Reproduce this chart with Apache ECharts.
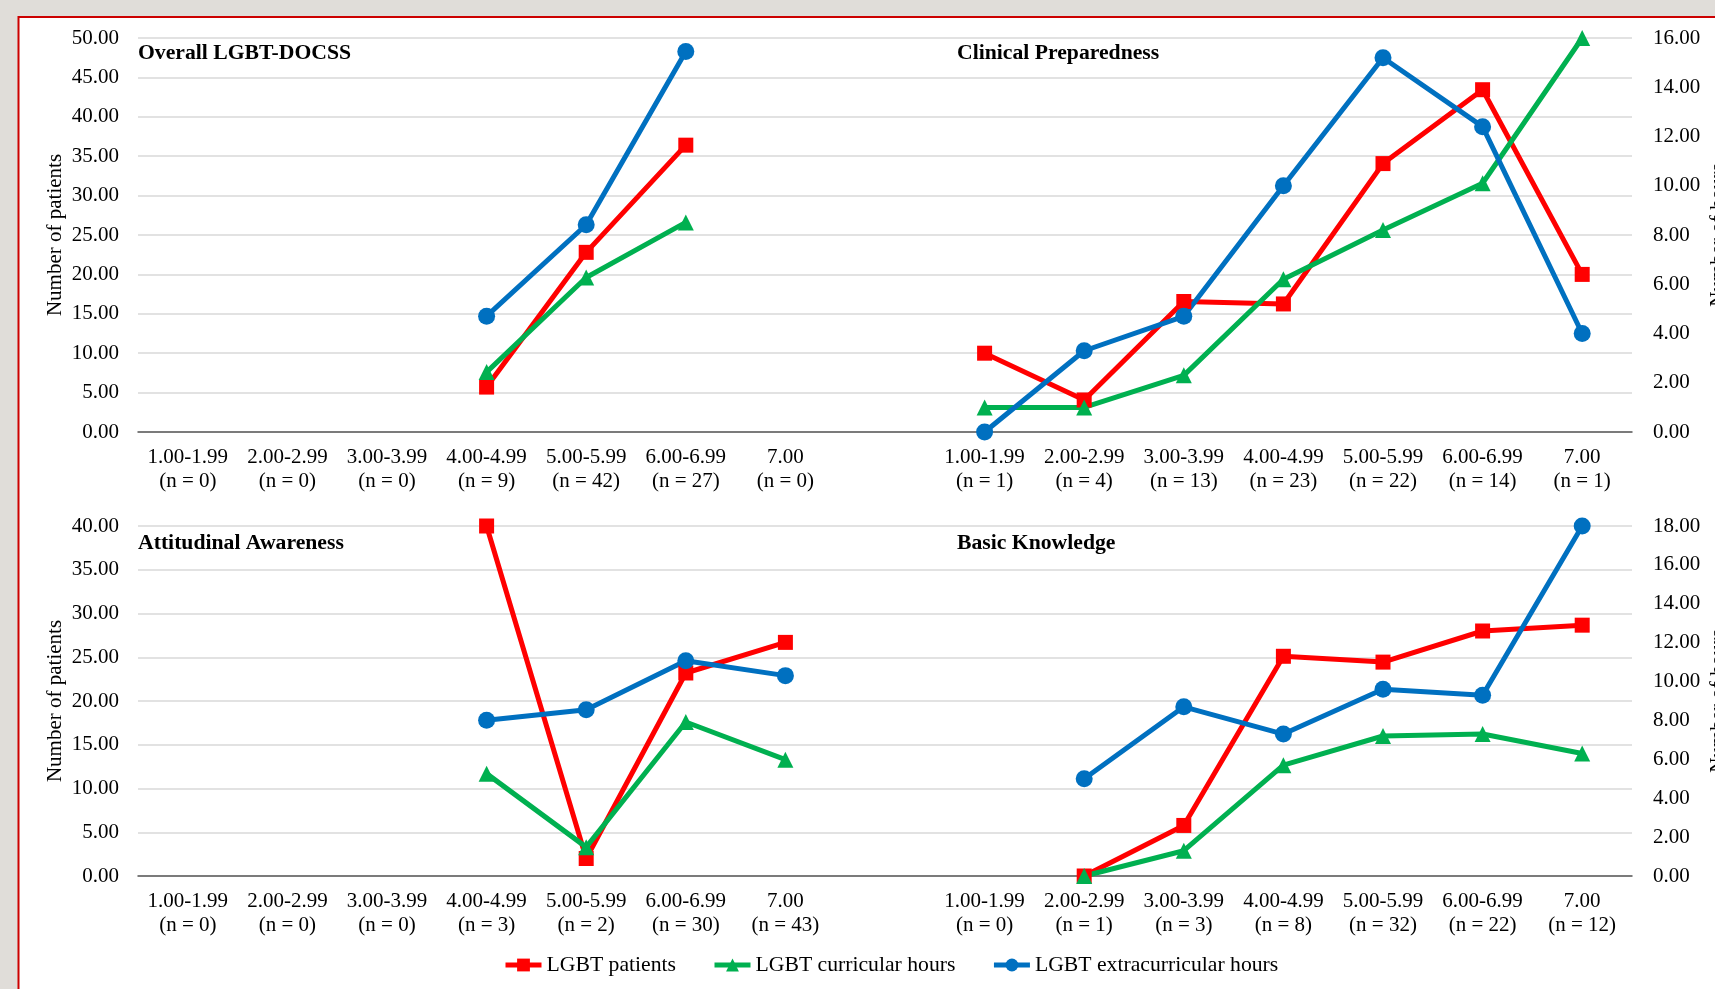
<!DOCTYPE html>
<html>
<head>
<meta charset="utf-8">
<script src="https://cdn.jsdelivr.net/npm/echarts@6/dist/echarts.min.js"></script>
<style>
  html, body { margin: 0; padding: 0; background: #e0ddd9; }
  #chart { width: 1715px; height: 989px; }
</style>
</head>
<body>
<div id="chart"></div>
<script>
// score bins shared by all four panels
const scoreBins = ['1.00-1.99', '2.00-2.99', '3.00-3.99', '4.00-4.99', '5.00-5.99', '6.00-6.99', '7.00'];
const nOverall = [0, 0, 0, 9, 42, 27, 0];
const nClinical = [1, 4, 13, 23, 22, 14, 1];
const nAttitudinal = [0, 0, 0, 3, 2, 30, 43];
const nKnowledge = [0, 1, 3, 8, 32, 22, 12];

// Overall LGBT-DOCSS (left axis, number of patients)
const overallPatients = [null, null, null, 5.7, 22.8, 36.4, null];
const overallCurricular = [null, null, null, 7.6, 19.6, 26.6, null];
const overallExtra = [null, null, null, 14.7, 26.3, 48.3, null];

// Clinical Preparedness (right axis)
const clinicalPatients = [3.2, 1.3, 5.3, 5.2, 10.9, 13.9, 6.4];
const clinicalCurricular = [1.0, 1.0, 2.3, 6.2, 8.2, 10.1, 16.0];
const clinicalExtra = [0, 3.3, 4.7, 10.0, 15.2, 12.4, 4.0];

// Attitudinal Awareness (left axis)
const attitudinalPatients = [null, null, null, 40.0, 2.0, 23.2, 26.7];
const attitudinalCurricular = [null, null, null, 11.7, 3.3, 17.6, 13.3];
const attitudinalExtra = [null, null, null, 17.8, 19.0, 24.6, 22.9];

// Basic Knowledge (right axis)
const knowledgePatients = [null, 0, 2.6, 11.3, 11.0, 12.6, 12.9];
const knowledgeCurricular = [null, 0, 1.3, 5.7, 7.2, 7.3, 6.3];
const knowledgeExtra = [null, 5.0, 8.7, 7.3, 9.6, 9.3, 18.0];

const FONT = 'Liberation Serif';
const chart = echarts.init(document.getElementById('chart'));

// each row is one category axis: 7 bins, an empty slot, 7 bins
const rowLabels = (nLeft, nRight) =>
  scoreBins.map((b, i) => b + '\n(n = ' + nLeft[i] + ')')
    .concat([''])
    .concat(scoreBins.map((b, i) => b + '\n(n = ' + nRight[i] + ')'));
const gap = Array(8).fill(null);
const leftHalf = arr => arr.concat(gap);
const rightHalf = arr => gap.concat(arr);

const kinds = {
  'LGBT patients': { color: '#ff0000', symbol: 'rect', size: 15 },
  'LGBT curricular hours': { color: '#00b050', symbol: 'triangle', size: 16 },
  'LGBT extracurricular hours': { color: '#0070c0', symbol: 'circle', size: 17 },
};

const line = (name, data, row, yIdx) => ({
  type: 'line',
  name,
  data,
  xAxisIndex: row,
  yAxisIndex: yIdx,
  symbol: kinds[name].symbol,
  symbolSize: kinds[name].size,
  clip: false,
  lineStyle: { width: 5, color: kinds[name].color },
  itemStyle: { color: kinds[name].color },
});

const xAxis = (row, labels) => ({
  type: 'category',
  gridIndex: row,
  data: labels,
  axisTick: { show: false },
  axisLine: { lineStyle: { color: '#595959', width: 1.5 } },
  axisLabel: { interval: 0, fontFamily: FONT, fontSize: 21, lineHeight: 24, margin: 13, color: '#000' },
});

const leftAxis = (row, max) => ({
  type: 'value',
  gridIndex: row,
  position: 'left',
  min: 0,
  max,
  interval: 5,
  name: 'Number of patients',
  nameLocation: 'middle',
  nameRotate: 90,
  nameGap: 72,
  nameMoveOverlap: false,
  nameTextStyle: { fontFamily: FONT, fontSize: 21, color: '#000' },
  axisLine: { show: false },
  axisTick: { show: false },
  axisLabel: { formatter: v => v.toFixed(2), fontFamily: FONT, fontSize: 21, color: '#000', margin: 19 },
  splitLine: { lineStyle: { color: '#d9d9d9', width: 1.5 } },
});

const rightAxis = (row, max) => ({
  type: 'value',
  gridIndex: row,
  position: 'right',
  min: 0,
  max,
  interval: 2,
  name: 'Number of hours',
  nameLocation: 'middle',
  nameRotate: 90,
  nameGap: 76,
  nameMoveOverlap: false,
  nameTextStyle: { fontFamily: FONT, fontSize: 21, color: '#000' },
  axisLine: { show: false },
  axisTick: { show: false },
  axisLabel: { formatter: v => v.toFixed(2), fontFamily: FONT, fontSize: 21, color: '#000', margin: 21 },
  splitLine: { show: false },
});

const titleStyle = { fontFamily: FONT, fontSize: 21.7, fontWeight: 'bold', color: '#000', lineHeight: 23 };

chart.setOption({
  animation: false,
  backgroundColor: '#e0ddd9',
  graphic: [{
    type: 'rect',
    z: -10,
    silent: true,
    shape: { x: 18.5, y: 17, width: 1800, height: 1100 },
    style: { fill: '#ffffff', stroke: '#cc0000', lineWidth: 2 },
  }],
  title: [
    { text: 'Overall LGBT-DOCSS', left: 138, top: 42, padding: 0, textStyle: titleStyle },
    { text: 'Clinical Preparedness', left: 957, top: 42, padding: 0, textStyle: titleStyle },
    { text: 'Attitudinal Awareness', left: 138, top: 532, padding: 0, textStyle: titleStyle },
    { text: 'Basic Knowledge', left: 957, top: 532, padding: 0, textStyle: titleStyle },
  ],
  legend: {
    left: 503,
    top: 953,
    padding: 0,
    itemWidth: 36,
    itemHeight: 16,
    itemGap: 36,
    lineStyle: { width: 5 },
    textStyle: { fontFamily: FONT, fontSize: 21.7, lineHeight: 24, color: '#000' },
    data: ['LGBT patients', 'LGBT curricular hours', 'LGBT extracurricular hours'],
  },
  grid: [
    { left: 138, right: 83, top: 38, height: 394, containLabel: false, outerBoundsMode: 'none' },
    { left: 138, right: 83, top: 526, height: 350, containLabel: false, outerBoundsMode: 'none' },
  ],
  xAxis: [
    xAxis(0, rowLabels(nOverall, nClinical)),
    xAxis(1, rowLabels(nAttitudinal, nKnowledge)),
  ],
  yAxis: [
    leftAxis(0, 50),
    rightAxis(0, 16),
    leftAxis(1, 40),
    rightAxis(1, 18),
  ],
  series: [
    line('LGBT patients', leftHalf(overallPatients), 0, 0),
    line('LGBT curricular hours', leftHalf(overallCurricular), 0, 0),
    line('LGBT extracurricular hours', leftHalf(overallExtra), 0, 0),
    line('LGBT patients', rightHalf(clinicalPatients), 0, 1),
    line('LGBT curricular hours', rightHalf(clinicalCurricular), 0, 1),
    line('LGBT extracurricular hours', rightHalf(clinicalExtra), 0, 1),
    line('LGBT patients', leftHalf(attitudinalPatients), 1, 2),
    line('LGBT curricular hours', leftHalf(attitudinalCurricular), 1, 2),
    line('LGBT extracurricular hours', leftHalf(attitudinalExtra), 1, 2),
    line('LGBT patients', rightHalf(knowledgePatients), 1, 3),
    line('LGBT curricular hours', rightHalf(knowledgeCurricular), 1, 3),
    line('LGBT extracurricular hours', rightHalf(knowledgeExtra), 1, 3),
  ],
});
</script>
</body>
</html>
